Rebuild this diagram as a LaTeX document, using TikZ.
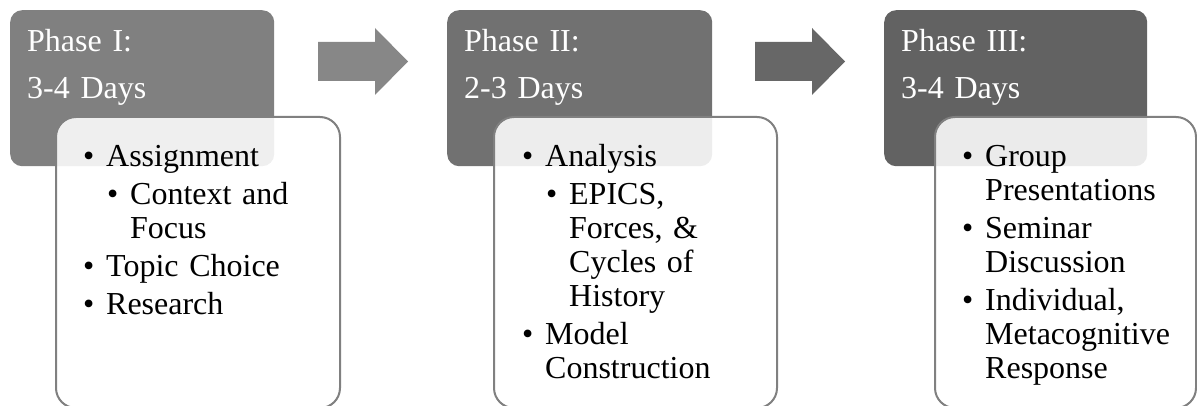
\documentclass[tikz,border=0pt]{standalone}
\usepackage{fontspec}
\setmainfont{Liberation Serif}
\usetikzlibrary{positioning}
\usepackage{xcolor}

\definecolor{phaseA}{HTML}{808080}
\definecolor{phaseB}{HTML}{717171}
\definecolor{phaseC}{HTML}{626262}
\definecolor{arrowA}{HTML}{878787}
\definecolor{arrowB}{HTML}{676767}
\definecolor{rimgray}{HTML}{808080}

% bullet line, optional left indent for sub items
\newcommand{\pitem}[2][0pt]{\leftskip=#1\hangindent=23pt\hangafter=1\noindent\makebox[23pt][l]{\textbullet}#2\par}

\begin{document}
\begin{tikzpicture}[x=1pt,y=-1pt]
\tikzset{
 phasebox/.style={fill=#1, rounded corners=12pt, minimum height=156pt, anchor=north west, inner sep=0},
 detailbox/.style={draw=rimgray, line width=2pt, fill=white, fill opacity=.88, rounded corners=20pt, minimum height=291pt, anchor=north west, inner sep=0},
 phasetitle/.style={text=white, text width=240pt, inner sep=0, anchor=base west, font=\fontsize{32}{47}\selectfont},
 detailtext/.style={text=black, text width=250pt, inner sep=0, anchor=base west, font=\fontsize{32}{34}\selectfont}
}
\useasboundingbox (0,0) rectangle (1197,406);

% phase I
\node[phasebox=phaseA, minimum width=264pt] (ph1) at (10,10) {};
\node[phasetitle] (ti1) at ([xshift=17pt,yshift=-42pt]ph1.north west) {Phase I:\\3-4 Days};
\node[detailbox, minimum width=284pt] (de1) at ([xshift=45pt,yshift=-106pt]ph1.north west) {};
\node[detailtext] (tx1) at ([xshift=28pt,yshift=-51pt]de1.north west) {\parskip=4pt
 \pitem{Assignment}
 \pitem[24pt]{Context and\newline Focus}
 \pitem{Topic Choice}
 \pitem{Research}};

% phase II
\node[phasebox=phaseB, minimum width=265pt] (ph2) at (447,10) {};
\node[phasetitle] (ti2) at ([xshift=17pt,yshift=-42pt]ph2.north west) {Phase II:\\2-3 Days};
\node[detailbox, minimum width=283pt] (de2) at ([xshift=46pt,yshift=-106pt]ph2.north west) {};
\node[detailtext] (tx2) at ([xshift=29pt,yshift=-51pt]de2.north west) {\parskip=4pt
 \pitem{Analysis}
 \pitem[24pt]{EPICS,\newline Forces, \&\newline Cycles of\newline History}
 \pitem{Model\newline Construction}};

% phase III
\node[phasebox=phaseC, minimum width=263pt] (ph3) at (884,10) {};
\node[phasetitle] (ti3) at ([xshift=17pt,yshift=-42pt]ph3.north west) {Phase III:\\3-4 Days};
\node[detailbox, minimum width=261pt] (de3) at ([xshift=50pt,yshift=-106pt]ph3.north west) {};
\node[detailtext] (tx3) at ([xshift=28pt,yshift=-51pt]de3.north west) {\parskip=4pt
 \pitem{Group\newline Presentations}
 \pitem{Seminar\newline Discussion}
 \pitem{Individual,\newline Metacognitive\newline Response}};

% block arrows between the phases
\foreach \x/\c in {318/arrowA, 755/arrowB} {
 \fill[\c] (\x,42) --++(57,0) --++(0,-14) --++(33,33.5) --++(-33,33.5) --++(0,-14) --++(-57,0) -- cycle;
}
\end{tikzpicture}
\end{document}
